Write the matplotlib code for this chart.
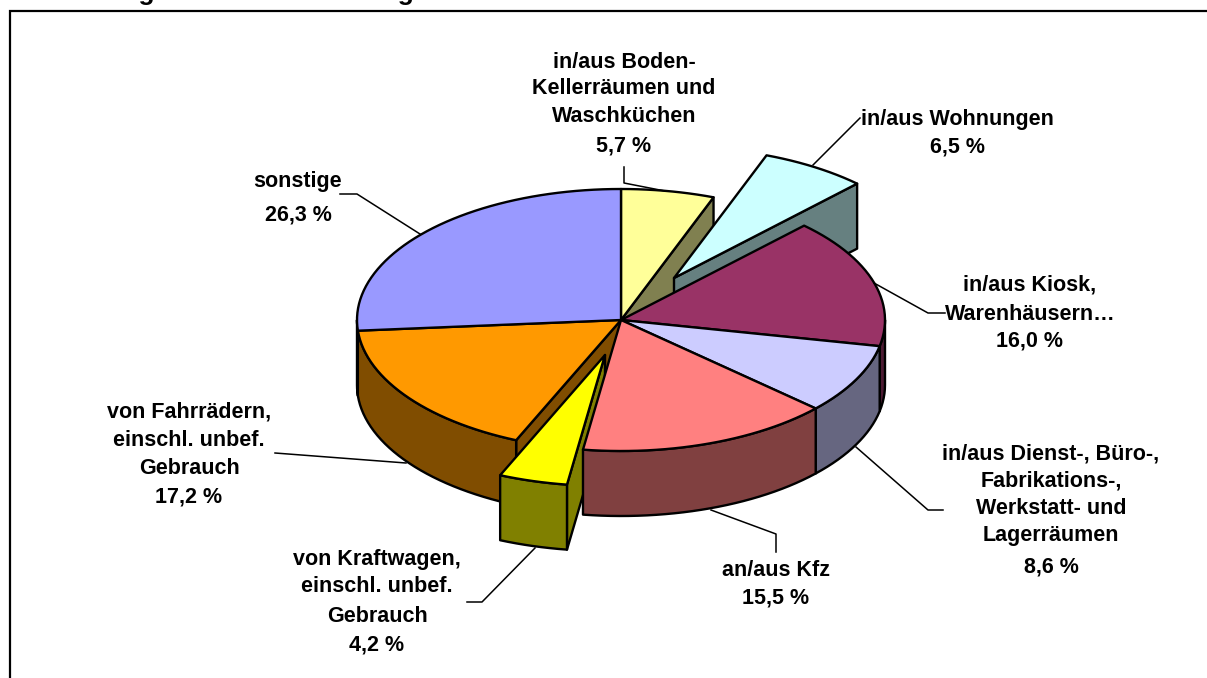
#!/usr/bin/env python

# Exploded 3D pie of theft locations, drawn by hand from polygons.

import numpy as np
import matplotlib
matplotlib.use("Agg")
import matplotlib.pyplot as plt
from matplotlib.patches import Polygon

TITLE = "Abbildung 11:    Tatorte     ausgewählter       Diebstahlsdelikte"

labels = [
    ["in/aus Boden-", "Kellerräumen und", "Waschküchen"],
    ["in/aus Wohnungen"],
    ["in/aus Kiosk,", "Warenhäusern…"],
    ["in/aus Dienst-, Büro-,", "Fabrikations-,", "Werkstatt- und", "Lagerräumen"],
    ["an/aus Kfz"],
    ["von Kraftwagen,", "einschl. unbef.", "Gebrauch"],
    ["von Fahrrädern,", "einschl. unbef.", "Gebrauch"],
    ["sonstige"],
]
values = [5.7, 6.5, 16.0, 8.6, 15.5, 4.2, 17.2, 26.3]
top_colors = ["#FFFF99", "#CCFFFF", "#993366", "#CCCCFF", "#FF8080", "#FFFF00", "#FF9900", "#9999FF"]
side_colors = ["#808050", "#668080", "#4D1A33", "#666680", "#804040", "#808000", "#804D00", "#4D4D80"]

# layout, in pixels of the 1207x678 picture
CX, CY = 621, 320
RX, RY = 264, 131
DEPTH = 65
offsets = [(0, 0), (53, -42), (0, 0), (0, 0), (0, 0), (-16, 35), (0, 0), (0, 0)]
label_x = [624, 957, 1030, 1051, 776, 377, 189, 298]
label_y = [
    [62, 89, 116, 146],
    [120, 147],
    [285, 314, 341],
    [454, 481, 509, 536, 567],
    [570, 598],
    [559, 587, 617, 645],
    [412, 440, 469, 497],
    [181, 215],
]
leaders = [
    [(624, 167), (624, 183), (665, 191)],
    [(813, 165), (860, 118)],
    [(874, 283), (928, 313), (945, 313)],
    [(856, 447), (928, 510), (943, 510)],
    [(711, 510), (776, 534), (776, 552)],
    [(535, 548), (482, 602), (467, 602)],
    [(406, 463), (275, 453)],
    [(420, 234), (357, 194), (340, 194)],
]


def arc(t1, t2, off):
    # points on the top ellipse between two angles, clockwise from 12 o'clock
    n = max(int(abs(t2 - t1) / 2) + 2, 2)
    t = np.radians(np.linspace(t1, t2, n))
    return np.column_stack([CX + off[0] + RX * np.sin(t), CY + off[1] - RY * np.cos(t)])


def face(ax, pts, color):
    ax.add_patch(Polygon(pts, closed=True, facecolor=color, edgecolor="black",
                         linewidth=1.7, joinstyle="round"))


def top(ax, i):
    off = offsets[i]
    apex = [[CX + off[0], CY + off[1]]]
    face(ax, np.vstack([apex, arc(starts[i], ends[i], off)]), top_colors[i])


def rim(ax, i):
    # outer wall, only the part that faces the viewer
    t1, t2 = max(starts[i], 90), min(ends[i], 270)
    if t2 <= t1:
        return
    pts = arc(t1, t2, offsets[i])
    low = pts[::-1] + [0, DEPTH]
    face(ax, np.vstack([pts, low]), side_colors[i])


def cut(ax, i, angle):
    # flat wall from the centre of wedge i out to the given angle
    off = offsets[i]
    a = np.array([CX + off[0], CY + off[1]])
    b = arc(angle, angle, off)[0]
    face(ax, [a, b, b + [0, DEPTH], a + [0, DEPTH]], side_colors[i])


angles = np.cumsum([0] + values) / sum(values) * 360
starts = angles[:-1]
ends = angles[1:]

plt.rcParams['font.family'] = ['Liberation Sans', 'DejaVu Sans']
fig = plt.figure(figsize=(12.07, 6.78), dpi=100)
ax = fig.add_axes([0, 0, 1, 1])
ax.set_xlim(0, 1207)
ax.set_ylim(678, 0)
ax.axis("off")

ax.text(24, -0.4, TITLE, fontsize=19, fontweight="bold", va="baseline", ha="left")
ax.plot([1207, 10, 10], [11, 11, 678], color="black", linewidth=1.6, solid_joinstyle="miter")

# back to front
cut(ax, 0, ends[0])
cut(ax, 1, ends[1])
top(ax, 1)
cut(ax, 6, starts[6])
cut(ax, 5, starts[5])
for i in [7, 6, 2, 3, 4]:
    rim(ax, i)
for i in [0, 2, 3, 4, 6, 7]:
    top(ax, i)
rim(ax, 5)
top(ax, 5)

for pts in leaders:
    xs, ys = zip(*pts)
    ax.plot(xs, ys, color="black", linewidth=1.1)

for i, lines in enumerate(labels):
    texts = lines + ["%s %%" % str(values[i]).replace(".", ",")]
    for line, y in zip(texts, label_y[i]):
        ax.text(label_x[i], y, line, fontsize=15.5, fontweight="bold",
                ha="center", va="center")

fig.savefig("out.png", dpi=100)
